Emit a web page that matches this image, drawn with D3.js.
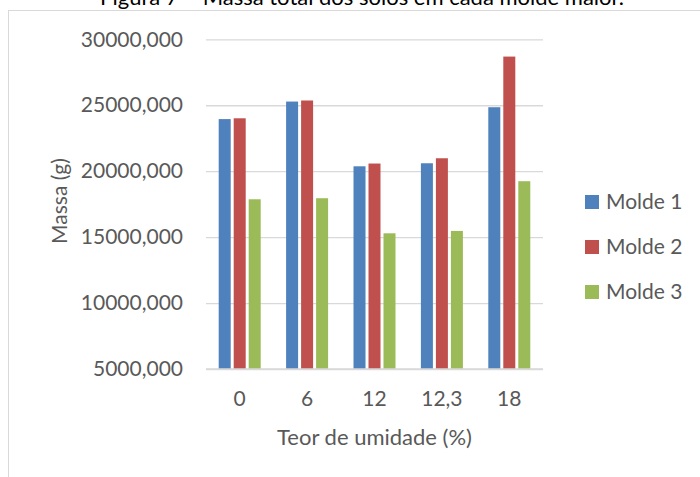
<!DOCTYPE html>
<html>
<head>
  <meta charset="utf-8">
  <title>Massa total dos solos em cada molde maior</title>
  <script src="https://d3js.org/d3.v7.min.js"></script>
  <style>
    body { margin: 0; background: #fff; }
    text { font-family: Lato, "Open Sans", sans-serif; fill: #595959; }
  </style>
</head>
<body>
<script>
  const width = 700;
  const height = 477;

  // data
  const categories = ["0", "6", "12", "12,3", "18"];
  const seriesNames = ["Molde 1", "Molde 2", "Molde 3"];
  const molde1 = [23950, 25280, 20370, 20600, 24850];
  const molde2 = [24010, 25360, 20580, 20980, 28690];
  const molde3 = [17870, 17950, 15290, 15470, 19240];
  const yTicks = [5000, 10000, 15000, 20000, 25000, 30000];
  const colors = ["#4f81bd", "#c0504d", "#9bbb59"];

  const seriesValues = [molde1, molde2, molde3];

  const svg = d3.select("body")
    .append("svg")
    .attr("width", width)
    .attr("height", height);

  // document caption, mostly cut off at the top (as in the source)
  svg.append("text")
    .attr("x", 362)
    .attr("y", 5)
    .attr("text-anchor", "middle")
    .style("font-size", "22px")
    .style("fill", "#000")
    .text("Figura 7 – Massa total dos solos em cada molde maior.");

  // chart frame
  svg.append("rect")
    .attr("x", 8.5)
    .attr("y", 10.5)
    .attr("width", 720)
    .attr("height", 500)
    .attr("fill", "#fff")
    .attr("stroke", "#d9d9d9");

  const plot = {left: 206, right: 543, top: 39.3, bottom: 369};

  const y = d3.scaleLinear()
    .domain([5000, 30000])
    .range([plot.bottom, plot.top]);

  const x0 = d3.scaleBand()
    .domain(categories)
    .range([plot.left, plot.right])
    .paddingInner(0.377)
    .paddingOuter(0.1885);

  const x1 = d3.scaleBand()
    .domain(seriesNames)
    .range([0, x0.bandwidth()])
    .paddingInner(0.2);

  const fmt = d => d3.format("d")(d) + ",000";

  // gridlines + y labels
  const yAxis = d3.axisLeft(y)
    .tickValues(yTicks)
    .tickSize(-(plot.right - plot.left))
    .tickPadding(23)
    .tickFormat(fmt);

  const gy = svg.append("g")
    .attr("transform", `translate(${plot.left},0)`)
    .call(yAxis);
  gy.select(".domain").remove();
  gy.selectAll(".tick line").attr("stroke", "#d9d9d9").attr("stroke-width", 1.3);
  gy.selectAll(".tick text")
    .style("font-size", "21px")
    .style("font-family", "Lato, sans-serif")
    .attr("fill", "#595959");

  // bars
  const groups = svg.append("g")
    .selectAll("g")
    .data(categories)
    .join("g")
    .attr("transform", d => `translate(${x0(d)},0)`);

  groups.selectAll("rect")
    .data((c, i) => seriesNames.map((s, k) => ({s, k, v: seriesValues[k][i]})))
    .join("rect")
    .attr("x", d => x1(d.s))
    .attr("width", x1.bandwidth())
    .attr("y", d => y(d.v))
    .attr("height", d => y(5000) - y(d.v))
    .attr("fill", d => colors[d.k]);

  // x axis
  const xAxis = d3.axisBottom(x0).tickSize(0).tickPadding(22);
  const gx = svg.append("g")
    .attr("transform", `translate(0,${plot.bottom})`)
    .call(xAxis);
  gx.select(".domain")
    .attr("stroke", "#d9d9d9")
    .attr("stroke-width", 1.3)
    .attr("d", `M${plot.left},0H${plot.right}`);
  gx.selectAll(".tick text")
    .style("font-size", "21px")
    .style("font-family", "Lato, sans-serif")
    .attr("fill", "#595959");

  // axis titles
  svg.append("text")
    .attr("x", (plot.left + plot.right) / 2)
    .attr("y", 445)
    .attr("text-anchor", "middle")
    .style("font-size", "22px")
    .text("Teor de umidade (%)");

  svg.append("text")
    .attr("transform", "translate(67,201) rotate(-90)")
    .attr("text-anchor", "middle")
    .style("font-size", "21px")
    .text("Massa (g)");

  // legend
  const legend = svg.append("g")
    .selectAll("g")
    .data(seriesNames)
    .join("g")
    .attr("transform", (d, i) => `translate(585,${202 + i * 45})`);

  legend.append("rect")
    .attr("x", 0)
    .attr("y", -7)
    .attr("width", 14)
    .attr("height", 14)
    .attr("fill", (d, i) => colors[i]);

  legend.append("text")
    .attr("x", 21)
    .attr("y", 0)
    .attr("dy", "0.35em")
    .style("font-size", "21px")
    .text(d => d);
</script>
</body>
</html>
